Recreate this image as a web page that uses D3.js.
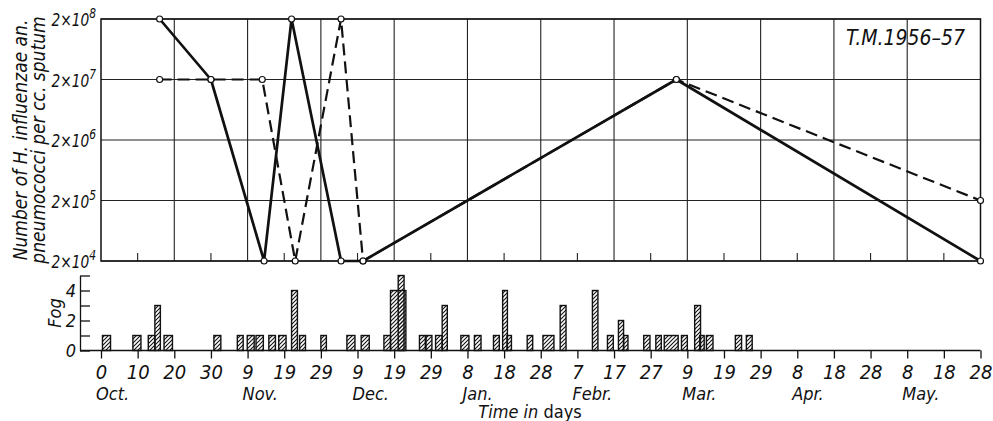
<!DOCTYPE html>
<html>
<head>
<meta charset="utf-8">
<script src="https://cdn.jsdelivr.net/npm/d3@7"></script>
<style>
  body { margin: 0; background: #fff; }
  text { font-family: "DejaVu Sans", sans-serif; font-stretch: condensed; font-style: italic; fill: #111; }
</style>
</head>
<body>
<svg id="chart" width="993" height="421"></svg>
<script>
// day 0 = "0 Oct."; counts per cc. sputum
var solidDays = [16, 30, 44.5, 52, 65.5, 71.5, 157, 240];
var solidCounts = [2e8, 2e7, 2e4, 2e8, 2e4, 2e4, 2e7, 2e4];
var dashDays = [16, 30, 44, 53, 65.5, 71.5, 157, 240];
var dashCounts = [2e7, 2e7, 2e7, 2e4, 2e8, 2e4, 2e7, 2e5];

// fog bars: start day, end day, value
var fogStart = [0.4, 8.7, 12.9, 14.7, 17.2, 30.8, 37.2, 39.9, 42.3, 45.8, 48.5, 52.0, 54.2, 60.0, 67.1, 71.0, 77.2, 79.0, 81.1,
  86.9, 88.7, 91.3, 93.1, 98.2, 101.9, 107.1, 109.6, 110.8, 116.3, 120.6, 125.3, 134.1, 138.2, 141.2, 142.6, 148.1, 151.4,
  153.7, 158.4, 162.0, 163.4, 165.2, 173.1, 176.1];
var fogEnd = [2.6, 10.9, 14.7, 16.2, 19.5, 32.7, 38.8, 41.8, 44.3, 47.6, 50.5, 53.6, 55.8, 61.5, 69.3, 73.2, 79.0, 83.2, 82.7,
  88.5, 90.3, 93.1, 94.5, 100.4, 103.7, 108.7, 110.9, 112.0, 117.8, 123.6, 126.9, 135.6, 139.8, 142.6, 143.8, 149.8, 152.9,
  157.5, 160.0, 163.6, 164.6, 167.0, 174.8, 177.7];
var fogValue = [1, 1, 1, 3, 1, 1, 1, 1, 1, 1, 1, 4, 1, 1, 1, 1, 1, 4, 5,
  1, 1, 1, 3, 1, 1, 1, 4, 1, 1, 1, 3, 4, 1, 2, 1, 1, 1,
  1, 1, 3, 1, 1, 1, 1];

var countTicks = [2e4, 2e5, 2e6, 2e7, 2e8];
var countExp = ["4", "5", "6", "7", "8"];
var fogTicks = [0, 1, 2, 3, 4, 5];
var dayTicks = [0, 10, 20, 30, 40, 50, 60, 70, 80, 90, 100, 110, 120, 130, 140, 150, 160, 170, 180, 190, 200, 210, 220, 230, 240];
var dayLabels = ["0", "10", "20", "30", "9", "19", "29", "9", "19", "29", "8", "18", "28", "7", "17", "27",
  "9", "19", "29", "8", "18", "28", "8", "18", "28"];
var monthNames = ["Oct.", "Nov.", "Dec.", "Jan.", "Febr.", "Mar.", "Apr.", "May."];
var monthDays = [0, 40, 70, 100, 130, 160, 190, 220];
var gridDays = [20, 40, 60, 80, 100, 120, 140, 160, 180, 200, 220];
var minorDays = [10, 30, 50, 70, 90, 110, 130, 150, 170, 190, 210, 230];

var svg = d3.select("#chart");
var x = d3.scaleLinear().domain([0, 240]).range([101, 980.5]);
var y = d3.scaleLog().domain([2e4, 2e8]).range([261, 19]);
var yFog = d3.scaleLinear().domain([0, 5]).range([350.5, 275.5]);

var defs = svg.append("defs");
defs.append("pattern")
  .attr("id", "hatch")
  .attr("patternUnits", "userSpaceOnUse")
  .attr("width", 4).attr("height", 4)
  .append("path")
  .attr("d", "M-1,1 l2,-2 M0,4 l4,-4 M3,5 l2,-2")
  .attr("stroke", "#111").attr("stroke-width", 1.1);

// upper panel grid
var upper = svg.append("g");
upper.selectAll(".hgrid").data(countTicks).enter().append("line")
  .attr("x1", x(0)).attr("x2", x(240))
  .attr("y1", function(d) { return y(d); }).attr("y2", function(d) { return y(d); })
  .attr("stroke", "#222").attr("stroke-width", 1.2);
upper.selectAll(".vgrid").data(gridDays).enter().append("line")
  .attr("x1", function(d) { return x(d); }).attr("x2", function(d) { return x(d); })
  .attr("y1", y(2e8)).attr("y2", y(2e4))
  .attr("stroke", "#222").attr("stroke-width", 1.1);
upper.selectAll(".minor").data(minorDays).enter().append("line")
  .attr("x1", function(d) { return x(d); }).attr("x2", function(d) { return x(d); })
  .attr("y1", y(2e4) - 8).attr("y2", y(2e4))
  .attr("stroke", "#222").attr("stroke-width", 1.1);
upper.append("rect")
  .attr("x", x(0)).attr("y", y(2e8))
  .attr("width", x(240) - x(0)).attr("height", y(2e4) - y(2e8))
  .attr("fill", "none").attr("stroke", "#111").attr("stroke-width", 1.5);

// y labels 2x10^n
var yl = upper.selectAll(".ylab").data(countTicks).enter().append("text")
  .attr("transform", function(d) { return "translate(96," + (y(d) + 7) + ") scale(0.85,1)"; })
  .attr("text-anchor", "end").style("font-size", "18px");
yl.append("tspan").text("2×10");
yl.append("tspan").attr("dy", -8).style("font-size", "14px").text(function(d, i) { return countExp[i]; });

var line = d3.line()
  .x(function(d) { return x(d[0]); })
  .y(function(d) { return y(d[1]); });
var solidPts = solidDays.map(function(d, i) { return [d, solidCounts[i]]; });
var dashPts = dashDays.map(function(d, i) { return [d, dashCounts[i]]; });

upper.append("path").datum(dashPts).attr("d", line)
  .attr("fill", "none").attr("stroke", "#111").attr("stroke-width", 2.2)
  .attr("stroke-dasharray", "12,6");
upper.append("path").datum(solidPts).attr("d", line)
  .attr("fill", "none").attr("stroke", "#111").attr("stroke-width", 2.7)
  .attr("stroke-linejoin", "round");
upper.selectAll(".pt").data(solidPts.concat(dashPts)).enter().append("circle")
  .attr("cx", function(d) { return x(d[0]); })
  .attr("cy", function(d) { return y(d[1]); })
  .attr("r", 3).attr("fill", "#fff").attr("stroke", "#111").attr("stroke-width", 1.2);

upper.append("text").attr("x", 965).attr("y", 45).attr("text-anchor", "end")
  .style("font-size", "21px").text("T.M.1956–57");

svg.append("text")
  .attr("transform", "translate(27,140) rotate(-90)")
  .attr("text-anchor", "middle").style("font-size", "19px")
  .text("Number of H. influenzae an.");
svg.append("text")
  .attr("transform", "translate(45,140) rotate(-90)")
  .attr("text-anchor", "middle").style("font-size", "19px")
  .text("pneumococci per cc. sputum");

// fog panel
var bars = fogStart.map(function(d, i) { return { s: d, e: fogEnd[i], v: fogValue[i] }; });
bars.sort(function(a, b) { return b.v - a.v; });
svg.append("g").selectAll("rect").data(bars).enter().append("rect")
  .attr("x", function(d) { return x(d.s); })
  .attr("width", function(d) { return x(d.e) - x(d.s); })
  .attr("y", function(d) { return yFog(d.v); })
  .attr("height", function(d) { return yFog(0) - yFog(d.v); })
  .attr("fill", "url(#hatch)").attr("stroke", "#111").attr("stroke-width", 1.4);

var fogAxis = d3.axisLeft(yFog).tickValues(fogTicks).tickSizeInner(-10).tickSizeOuter(0).tickPadding(4)
  .tickFormat(function(d) { return d % 2 === 0 ? d : ""; });
var fa = svg.append("g").attr("transform", "translate(80,0)").call(fogAxis);
fa.selectAll("line, path").attr("stroke", "#111").attr("stroke-width", 1.3);
fa.selectAll("text").style("font-size", "18px").attr("font-family", null);

svg.append("line").attr("x1", 80).attr("x2", x(240))
  .attr("y1", yFog(0)).attr("y2", yFog(0))
  .attr("stroke", "#111").attr("stroke-width", 1.5);

var dayAxis = d3.axisBottom(x).tickValues(dayTicks).tickSizeInner(8).tickSizeOuter(0).tickPadding(6)
  .tickFormat(function(d, i) { return dayLabels[i]; });
var da = svg.append("g").attr("transform", "translate(0," + yFog(0) + ")").call(dayAxis);
da.select(".domain").remove();
da.selectAll("line").attr("stroke", "#111").attr("stroke-width", 1.3);
da.selectAll("text").style("font-size", "20px").attr("font-family", null);

svg.selectAll(".month").data(monthNames).enter().append("text")
  .attr("x", function(d, i) { return x(monthDays[i]) - 5; })
  .attr("y", 400).style("font-size", "18px").text(function(d) { return d; });

svg.append("text")
  .attr("transform", "translate(61,313) rotate(-90)")
  .attr("text-anchor", "middle").style("font-size", "18px").text("Fog");

var xt = svg.append("text").attr("x", 530).attr("y", 418).attr("text-anchor", "middle").style("font-size", "18px");
xt.append("tspan").text("Time in ");
xt.append("tspan").style("font-style", "normal").text("days");
</script>
</body>
</html>
